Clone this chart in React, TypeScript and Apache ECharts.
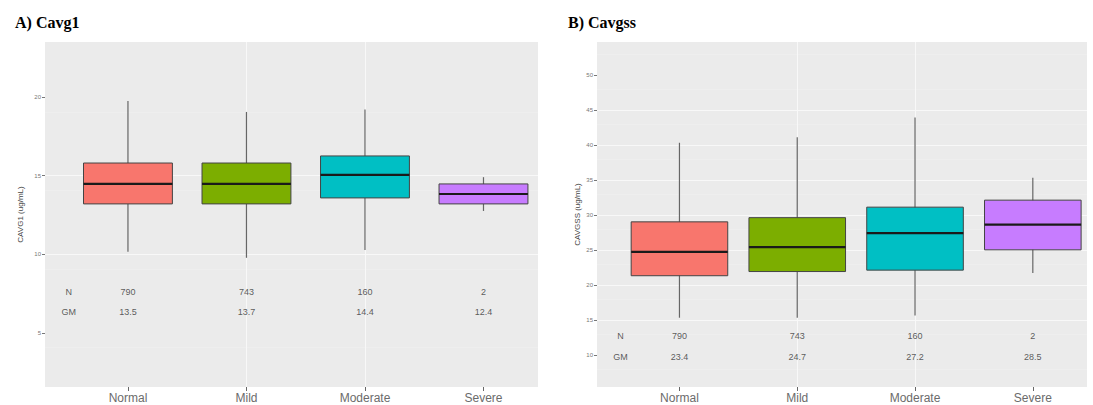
import React, { useEffect, useRef } from "react";
import * as echarts from "echarts";

const categories = ["Normal", "Mild", "Moderate", "Severe"];
const boxColors = ["#F8766D", "#7CAE00", "#00BFC4", "#C77CFF"];
const nCounts = [790, 743, 160, 2];
const gmCavg1 = [13.5, 13.7, 14.4, 12.4];
const gmCavgss = [23.4, 24.7, 27.2, 28.5];
// [lower whisker, Q1, median, Q3, upper whisker]
const cavg1Stats = [
  [10.15, 13.2, 14.47, 15.8, 19.75],
  [9.77, 13.2, 14.47, 15.8, 19.05],
  [10.27, 13.58, 15.04, 16.25, 19.2],
  [12.75, 13.2, 13.83, 14.47, 14.9],
];
const cavgssStats = [
  [15.3, 21.3, 24.7, 29.0, 40.3],
  [15.3, 21.9, 25.4, 29.6, 41.1],
  [15.6, 22.1, 27.4, 31.1, 43.9],
  [21.7, 25.0, 28.6, 32.1, 35.3],
];
const cavg1Ticks = [5, 10, 15, 20];
const cavgssTicks = [10, 15, 20, 25, 30, 35, 40, 45, 50];
const categoryTicks = [1, 2, 3, 4];

const SANS = "Liberation Sans, Arial, sans-serif";

function makeRenderBox(widthFactor: number) {
  return function renderBox(params: any, api: any) {
    const x = api.value(0);
    const lo = api.coord([x, api.value(1)]);
    const q1 = api.coord([x, api.value(2)]);
    const med = api.coord([x, api.value(3)]);
    const q3 = api.coord([x, api.value(4)]);
    const hi = api.coord([x, api.value(5)]);
    const w = api.size([widthFactor, 0])[0];
    const color = boxColors[params.dataIndex % boxColors.length];
    return {
      type: "group",
      children: [
        {
          type: "line",
          shape: { x1: lo[0], y1: lo[1], x2: hi[0], y2: hi[1] },
          style: { stroke: "#666", lineWidth: 1.2 },
        },
        {
          type: "rect",
          shape: { x: q3[0] - w / 2, y: q3[1], width: w, height: q1[1] - q3[1] },
          style: { fill: color, stroke: "#444", lineWidth: 1 },
        },
        {
          type: "line",
          shape: { x1: med[0] - w / 2, y1: med[1], x2: med[0] + w / 2, y2: med[1] },
          style: { stroke: "#1a1a1a", lineWidth: 2.2 },
        },
      ],
    };
  };
}

function annotationData(gm: number[], yN: number, yGM: number) {
  const out: any[] = [
    { name: "N", value: [0.5, yN] },
    { name: "GM", value: [0.5, yGM] },
  ];
  categories.forEach((_, i) => {
    out.push({ name: String(nCounts[i]), value: [i + 1, yN] });
    out.push({ name: gm[i].toFixed(1), value: [i + 1, yGM] });
  });
  return out;
}

function xAxisFor(gridIndex: number) {
  return {
    type: "value",
    gridIndex,
    min: 0.3,
    max: 4.46,
    interval: 1,
    axisLine: { show: false },
    axisTick: { show: true, customValues: categoryTicks, length: 4, lineStyle: { color: "#666" } },
    axisLabel: {
      customValues: categoryTicks,
      formatter: (v: number) => categories[Math.round(v) - 1] ?? "",
      color: "#6b6b6b",
      fontSize: 12,
      fontFamily: SANS,
      margin: 5,
    },
    splitLine: { show: true, showMinLine: false, showMaxLine: false, lineStyle: { color: "#f8f8f8", width: 1 } },
  };
}

function yAxisFor(gridIndex: number, min: number, max: number, ticks: number[], name: string, nameGap: number) {
  return {
    type: "value",
    gridIndex,
    min,
    max,
    interval: 5,
    name,
    nameLocation: "middle",
    nameGap,
    nameTextStyle: { fontSize: 8, color: "#444", fontFamily: SANS },
    axisLine: { show: false },
    axisTick: { show: true, customValues: ticks, length: 3, lineStyle: { color: "#777" } },
    axisLabel: {
      customValues: ticks,
      fontSize: 6,
      color: "#777",
      fontFamily: SANS,
      margin: 4,
    },
    splitLine: { show: true, showMinLine: false, showMaxLine: false, lineStyle: { color: "#f8f8f8", width: 1 } },
    minorTick: { show: false, splitNumber: 2 },
    minorSplitLine: { show: true, lineStyle: { color: "#f1f1f1", width: 0.5 } },
  };
}

const textSeries = (xi: number, data: any[]) => ({
  type: "scatter",
  xAxisIndex: xi,
  yAxisIndex: xi,
  symbolSize: 0,
  silent: true,
  z: 5,
  data,
  label: {
    show: true,
    position: "inside",
    formatter: (p: any) => p.name,
    fontSize: 9,
    color: "#333",
    fontFamily: SANS,
  },
});

export default function App() {
  const ref = useRef<HTMLDivElement>(null);
  useEffect(() => {
    document.body.style.margin = "0";
    const chart = echarts.init(ref.current!, null, { renderer: "svg" });
    chart.setOption({
      animation: false,
      backgroundColor: "#fff",
      title: [
        {
          text: "A) Cavg1",
          left: 10,
          top: 9,
          textStyle: { fontFamily: "Liberation Serif, serif", fontWeight: "bold", fontSize: 16, color: "#000" },
        },
        {
          text: "B) Cavgss",
          left: 563,
          top: 9,
          textStyle: { fontFamily: "Liberation Serif, serif", fontWeight: "bold", fontSize: 16, color: "#000" },
        },
      ],
      grid: [
        { left: 45, top: 42, width: 493, height: 345, show: true, backgroundColor: "#EBEBEB", borderWidth: 0 },
        { left: 597, top: 42, width: 490, height: 345, show: true, backgroundColor: "#EBEBEB", borderWidth: 0 },
      ],
      xAxis: [xAxisFor(0), xAxisFor(1)],
      yAxis: [
        yAxisFor(0, 1.55, 23.5, cavg1Ticks, "CAVG1 (ug/mL)", 21),
        yAxisFor(1, 5.4, 54.7, cavgssTicks, "CAVGSS (ug/mL)", 16),
      ],
      series: [
        {
          type: "custom",
          xAxisIndex: 0,
          yAxisIndex: 0,
          renderItem: makeRenderBox(0.75),
          encode: { x: 0, y: [1, 2, 3, 4, 5] },
          data: cavg1Stats.map((s, i) => [i + 1, ...s]),
          z: 2,
        },
        {
          type: "custom",
          xAxisIndex: 1,
          yAxisIndex: 1,
          renderItem: makeRenderBox(0.82),
          encode: { x: 0, y: [1, 2, 3, 4, 5] },
          data: cavgssStats.map((s, i) => [i + 1, ...s]),
          z: 2,
        },
        textSeries(0, annotationData(gmCavg1, 7.6, 6.3)),
        textSeries(1, annotationData(gmCavgss, 12.7, 9.7)),
      ],
    });
    return () => chart.dispose();
  }, []);
  return <div ref={ref} style={{ width: 1093, height: 405 }} />;
}
